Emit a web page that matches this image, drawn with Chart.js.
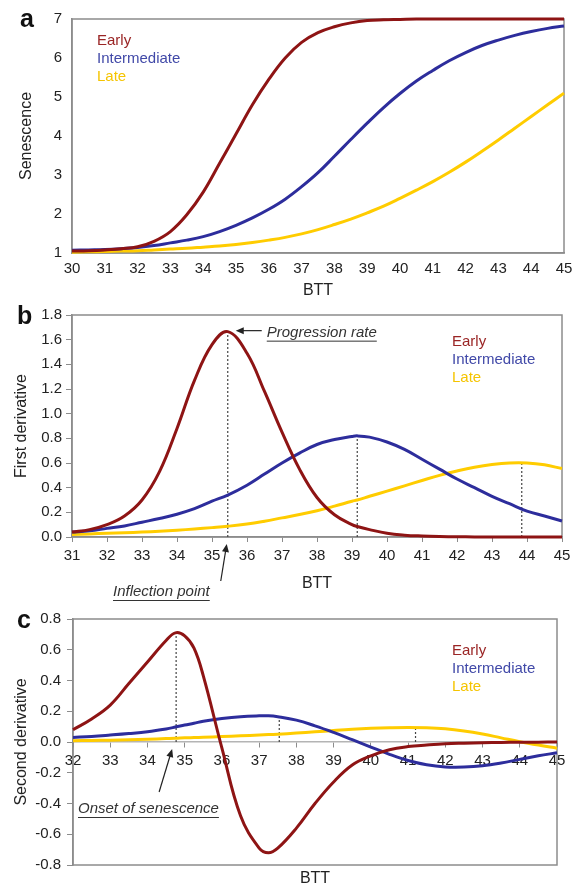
<!DOCTYPE html>
<html>
<head>
<meta charset="utf-8">
<script src="https://cdn.jsdelivr.net/npm/chart.js@4.4.1/dist/chart.umd.min.js"></script>
<style>
    body { margin: 0; background: #fff; }
    #wrap { position: relative; width: 581px; height: 888px; overflow: hidden; }
    canvas { position: absolute; left: 0; }
</style>
</head>
<body>
<div id="wrap">
    <canvas id="panelA" width="581" height="300" style="top:0px"></canvas>
    <canvas id="panelB" width="581" height="310" style="top:300px"></canvas>
    <canvas id="panelC" width="581" height="288" style="top:600px"></canvas>
</div>
<script>
var seriesNames = ["Early", "Intermediate", "Late"];
var lineColors = ["#8e1414", "#2d2d9c", "#ffcc00"];
var textColors = ["#9a2525", "#4149a8", "#f5c400"];

// a: senescence score
var bttA = [30, 30.5, 31, 31.5, 32, 32.5, 33, 33.5, 34, 34.5, 35, 35.5, 36, 36.5, 37, 37.5,
            38, 38.5, 39, 39.5, 40, 40.5, 41, 41.5, 42, 42.5, 43, 43.5, 44, 44.5, 45];
var earlyA = [1.05, 1.06, 1.08, 1.11, 1.16, 1.3, 1.55, 1.98, 2.56, 3.3, 4.05, 4.8, 5.45, 6.0, 6.4, 6.65,
              6.8, 6.9, 6.96, 6.98, 6.99, 7, 7, 7, 7, 7, 7, 7, 7, 7, 7];
var intA = [1.07, 1.08, 1.09, 1.11, 1.14, 1.19, 1.26, 1.33, 1.42, 1.55, 1.71, 1.9, 2.12, 2.38, 2.7, 3.06,
            3.48, 3.91, 4.33, 4.73, 5.09, 5.41, 5.68, 5.93, 6.14, 6.32, 6.46, 6.58, 6.68, 6.76, 6.82];
var lateA = [1.02, 1.03, 1.04, 1.05, 1.06, 1.08, 1.1, 1.12, 1.15, 1.18, 1.22, 1.27, 1.33, 1.4, 1.49, 1.6,
             1.73, 1.87, 2.03, 2.2, 2.4, 2.61, 2.83, 3.07, 3.33, 3.61, 3.9, 4.2, 4.5, 4.8, 5.1];

// b: first derivative
var bttB = [31, 31.5, 32, 32.5, 33, 33.5, 34, 34.5, 35, 35.45, 36, 36.5, 37, 37.5, 38, 38.5,
            39, 39.15, 39.5, 40, 40.5, 41, 41.5, 42, 42.5, 43, 43.5, 44, 44.5, 45];
var earlyB = [0.04, 0.06, 0.1, 0.17, 0.3, 0.53, 0.88, 1.27, 1.56, 1.665, 1.49, 1.18, 0.85, 0.55, 0.32, 0.18,
              0.1, 0.085, 0.06, 0.03, 0.015, 0.008, 0.004, 0.002, 0.001, 0, 0, 0, 0, 0];
var intB = [0.04, 0.05, 0.07, 0.09, 0.12, 0.15, 0.185, 0.23, 0.29, 0.34, 0.42, 0.51, 0.6, 0.68, 0.75, 0.79,
            0.815, 0.82, 0.81, 0.77, 0.71, 0.63, 0.55, 0.47, 0.4, 0.33, 0.27, 0.21, 0.17, 0.13];
var lateB = [0.02, 0.025, 0.03, 0.035, 0.04, 0.047, 0.055, 0.065, 0.076, 0.087, 0.105, 0.128, 0.155, 0.182, 0.213, 0.25,
             0.29, 0.3, 0.33, 0.372, 0.415, 0.458, 0.5, 0.535, 0.565, 0.587, 0.6, 0.6, 0.585, 0.555];
var peakXB = [35.45, 39.15, 43.85];
var peakYB = [1.665, 0.82, 0.6];

// c: second derivative
var bttC = [32, 32.5, 33, 33.5, 34, 34.5, 34.75, 35, 35.25, 35.5, 36, 36.5, 37, 37.25, 37.5, 38, 38.5,
            39, 39.5, 40, 40.5, 41, 41.5, 42, 42.5, 43, 43.5, 44, 44.5, 45];
var earlyC = [0.08, 0.15, 0.24, 0.38, 0.52, 0.66, 0.71, 0.69, 0.61, 0.43, -0.04, -0.48, -0.69, -0.72, -0.69, -0.56, -0.4,
              -0.26, -0.15, -0.09, -0.05, -0.03, -0.02, -0.012, -0.008, -0.005, -0.003, -0.002, -0.001, 0];
var intC = [0.03, 0.036, 0.045, 0.055, 0.067, 0.085, 0.097, 0.11, 0.122, 0.135, 0.153, 0.165, 0.17, 0.17, 0.164, 0.142, 0.105,
            0.062, 0.015, -0.033, -0.08, -0.12, -0.148, -0.162, -0.163, -0.155, -0.137, -0.113, -0.09, -0.07];
var lateC = [0.008, 0.01, 0.012, 0.015, 0.018, 0.022, 0.024, 0.027, 0.029, 0.031, 0.035, 0.04, 0.045, 0.048, 0.051, 0.058, 0.066,
             0.075, 0.083, 0.089, 0.093, 0.095, 0.093, 0.086, 0.072, 0.052, 0.027, 0.002, -0.02, -0.04];
var peakXC = [34.77, 37.54, 41.2];
var peakYC = [0.71, 0.165, 0.095];

Chart.defaults.font.family = '"Liberation Sans", Arial, sans-serif';
Chart.defaults.color = "#222";

var frameColor = "#8c8c8c";

function pairs(xs, ys) {
    return xs.map(function(x, i) { return {x: x, y: ys[i]}; });
}

function curves(xs, lists) {
    return lists.map(function(ys, i) {
        return {
            label: seriesNames[i],
            data: pairs(xs, ys),
            borderColor: lineColors[i],
            borderWidth: 3,
            pointRadius: 0,
            tension: 0.4,
            clip: 4,
            order: 0
        };
    });
}

// dotted drops from each peak down to zero
function drops(px, py) {
    return px.map(function(x, i) {
        return {
            label: "drop" + i,
            data: [{x: x, y: 0}, {x: x, y: py[i]}],
            borderColor: "#444",
            borderWidth: 1.2,
            borderDash: [2, 2],
            pointRadius: 0,
            order: 1
        };
    });
}

function underlined(ctx, text, x, y, align) {
    ctx.font = 'italic 15px "Liberation Sans", Arial, sans-serif';
    ctx.textAlign = align;
    ctx.textBaseline = "middle";
    ctx.fillStyle = "#333";
    ctx.fillText(text, x, y);
    var w = ctx.measureText(text).width;
    var x0 = align === "right" ? x - w : x;
    ctx.strokeStyle = "#333";
    ctx.lineWidth = 1;
    ctx.beginPath();
    ctx.moveTo(x0, y + 8.5);
    ctx.lineTo(x0 + w, y + 8.5);
    ctx.stroke();
}

function arrow(ctx, x1, y1, x2, y2) {
    var ang = Math.atan2(y2 - y1, x2 - x1);
    ctx.strokeStyle = "#222";
    ctx.fillStyle = "#222";
    ctx.lineWidth = 1.2;
    ctx.beginPath();
    ctx.moveTo(x1, y1);
    ctx.lineTo(x2 - 5 * Math.cos(ang), y2 - 5 * Math.sin(ang));
    ctx.stroke();
    ctx.beginPath();
    ctx.moveTo(x2, y2);
    ctx.lineTo(x2 - 8 * Math.cos(ang) + 3.5 * Math.sin(ang), y2 - 8 * Math.sin(ang) - 3.5 * Math.cos(ang));
    ctx.lineTo(x2 - 8 * Math.cos(ang) - 3.5 * Math.sin(ang), y2 - 8 * Math.sin(ang) + 3.5 * Math.cos(ang));
    ctx.closePath();
    ctx.fill();
}

var extras = {
    id: "extras",
    beforeDatasetsDraw: function(chart) {
        var a = chart.chartArea, ctx = chart.ctx;
        ctx.save();
        ctx.strokeStyle = frameColor;
        ctx.lineWidth = 1.5;
        ctx.strokeRect(a.left, a.top, a.right - a.left, a.bottom - a.top);
        ctx.restore();
    },
    afterDraw: function(chart, args, opts) {
        var ctx = chart.ctx;
        ctx.save();
        ctx.fillStyle = "#111";
        ctx.font = 'bold 25px "Liberation Sans", Arial, sans-serif';
        ctx.textAlign = "left";
        ctx.textBaseline = "middle";
        ctx.fillText(opts.letter, opts.letterX, opts.letterY);
        ctx.font = '15px "Liberation Sans", Arial, sans-serif';
        seriesNames.forEach(function(name, i) {
            ctx.fillStyle = textColors[i];
            ctx.fillText(name, opts.legendX, opts.legendY + i * 18);
        });
        if (opts.notes) opts.notes(chart, ctx);
        ctx.restore();
    }
};

function xAxis(min, max, o) {
    return {
        type: "linear",
        min: min,
        max: max,
        position: o.position || "bottom",
        ticks: {stepSize: 1, font: {size: 15}, color: "#222", padding: o.pad},
        grid: {display: o.tick > 0, drawOnChartArea: false, drawTicks: true, tickLength: o.tick, color: frameColor},
        border: {display: true, color: o.line || frameColor, width: 1.5},
        title: {display: !!o.title, text: o.title || "", font: {size: 16}, color: "#222", padding: {top: 0, bottom: o.titlePad || 0}},
        afterFit: function(s) { if (o.height) s.height = o.height; }
    };
}

function yAxis(min, max, step, o) {
    return {
        type: "linear",
        min: min,
        max: max,
        ticks: {
            stepSize: step, font: {size: 15}, color: "#222", padding: o.pad,
            callback: function(v) { return o.digits ? v.toFixed(o.digits) : v; }
        },
        grid: {display: o.tick > 0, drawOnChartArea: false, drawTicks: true, tickLength: o.tick, color: frameColor},
        border: {display: true, color: frameColor, width: 1.5},
        title: {display: true, text: o.title, font: {size: 16}, color: "#222", padding: {top: o.titlePad, bottom: 0}},
        afterFit: function(s) { s.width = o.width; }
    };
}

var baseOptions = function(pad) {
    return {
        responsive: false,
        animation: false,
        layout: {padding: pad},
        plugins: {legend: {display: false}, tooltip: {enabled: false}}
    };
};

var optsA = baseOptions({left: 0, top: 14, right: 17, bottom: 0});
optsA.scales = {
    x: xAxis(30, 45, {pad: 7, tick: 0, title: "BTT", titlePad: 0, height: 47}),
    y: yAxis(1, 7, 1, {pad: 10, tick: 0, title: "Senescence", titlePad: 17, width: 72})
};
optsA.plugins.extras = {letter: "a", letterX: 20, letterY: 20, legendX: 97, legendY: 41};

var optsB = baseOptions({left: 0, top: 15, right: 19, bottom: 0});
optsB.scales = {
    x: xAxis(31, 45, {pad: 5, tick: 5, title: "BTT", titlePad: 17, height: 73}),
    y: yAxis(0, 1.8, 0.2, {pad: 4, tick: 6, title: "First derivative", titlePad: 12, width: 72, digits: 1})
};
optsB.plugins.extras = {
    letter: "b", letterX: 17, letterY: 17, legendX: 452, legendY: 42,
    notes: function(chart, ctx) {
        var xs = chart.scales.x, ys = chart.scales.y, a = chart.chartArea;
        var px = xs.getPixelForValue(peakXB[0]), py = ys.getPixelForValue(peakYB[0]);
        arrow(ctx, px + 34, py - 1, px + 8, py - 1);
        underlined(ctx, "Progression rate", px + 39, py + 1, "left");
        arrow(ctx, px - 7, a.bottom + 44, px - 1, a.bottom + 7);
        underlined(ctx, "Inflection point", px - 18, a.bottom + 55, "right");
    }
};

var optsC = baseOptions({left: 0, top: 19, right: 24, bottom: 0});
optsC.scales = {
    x: xAxis(32, 45, {pad: 5, tick: 5, position: {y: 0}, line: "#b4b4b4"}),
    x2: {
        type: "linear", axis: "x", position: "bottom", min: 32, max: 45,
        ticks: {display: false}, grid: {display: false}, border: {display: false},
        title: {display: true, text: "BTT", font: {size: 16}, color: "#222", padding: {top: 0, bottom: 0}},
        afterFit: function(s) { s.height = 23; }
    },
    y: yAxis(-0.8, 0.8, 0.2, {pad: 6, tick: 6, title: "Second derivative", titlePad: 12, width: 73, digits: 1})
};
optsC.plugins.extras = {
    letter: "c", letterX: 17, letterY: 21, legendX: 452, legendY: 51,
    notes: function(chart, ctx) {
        var xs = chart.scales.x, ys = chart.scales.y, a = chart.chartArea;
        var px = xs.getPixelForValue(peakXC[0]), zero = ys.getPixelForValue(0);
        arrow(ctx, px - 17, zero + 50, px - 4, zero + 7);
        underlined(ctx, "Onset of senescence", a.left + 5, zero + 67, "left");
    }
};

window.onload = function() {
    new Chart(document.getElementById("panelA").getContext("2d"), {
        type: "line",
        data: {datasets: curves(bttA, [earlyA, intA, lateA])},
        options: optsA,
        plugins: [extras]
    });
    new Chart(document.getElementById("panelB").getContext("2d"), {
        type: "line",
        data: {datasets: curves(bttB, [earlyB, intB, lateB]).concat(drops(peakXB, peakYB))},
        options: optsB,
        plugins: [extras]
    });
    new Chart(document.getElementById("panelC").getContext("2d"), {
        type: "line",
        data: {datasets: curves(bttC, [earlyC, intC, lateC]).concat(drops(peakXC, peakYC))},
        options: optsC,
        plugins: [extras]
    });
};
</script>
</body>
</html>
